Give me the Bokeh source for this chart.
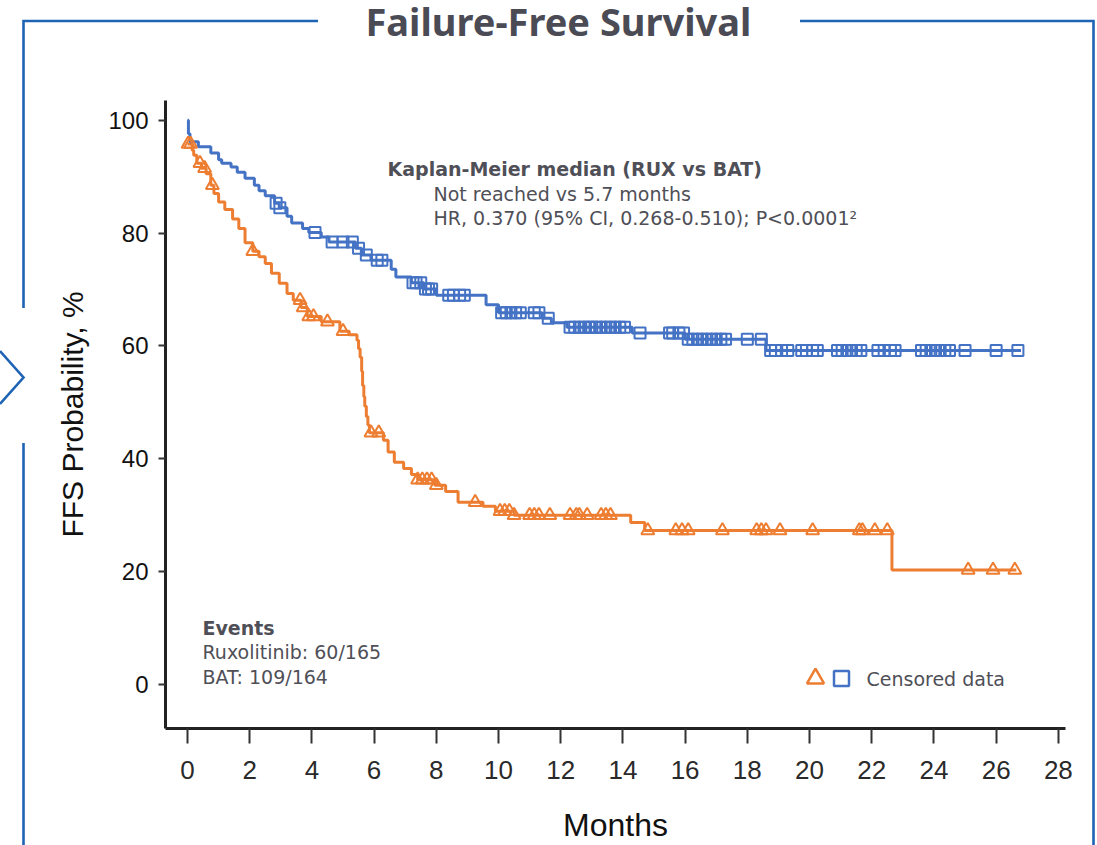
from bokeh.plotting import figure
from bokeh.models import Label, Range1d, FixedTicker, Title
from bokeh.embed import file_html
from bokeh.resources import INLINE
import numpy as np

# ---------------- data ----------------
rux_t = [0.0, 0.03, 0.08, 0.35, 0.75, 1.0, 1.1, 1.4, 1.6, 1.85, 2.15, 2.3, 2.5, 2.8, 2.95,
         3.2, 3.35, 3.7, 3.9, 4.3, 4.55, 5.4, 5.6, 5.9, 6.55, 6.7, 7.2, 7.6, 8.0, 9.6,
         10.0, 11.4, 11.7, 12.2, 14.3, 16.0, 18.6]
rux_s = [100.0, 97.6, 96.2, 95.3, 94.2, 93.0, 92.4, 91.7, 90.8, 89.7, 88.5, 87.5, 86.6, 85.3, 84.5,
         83.0, 81.8, 80.8, 80.1, 79.3, 78.4, 77.3, 76.1, 75.2, 73.6, 72.2, 71.2, 70.1, 69.0, 67.3,
         65.9, 64.9, 64.1, 63.3, 62.3, 61.2, 59.2]
rux_end = 26.8
rux_cens = [2.85, 2.97, 4.1, 4.65, 5.0, 5.3, 5.5, 5.75, 6.1, 6.25,
            7.25, 7.35, 7.5, 7.65, 7.75, 7.85, 8.4, 8.55, 8.75, 8.9,
            10.1, 10.25, 10.4, 10.55, 10.7, 11.15, 11.3, 11.6,
            12.3, 12.45, 12.6, 12.75, 12.9, 13.0, 13.15, 13.3, 13.45, 13.6, 13.75, 13.9, 14.05,
            14.55, 15.5, 15.6, 15.8, 15.95, 16.1, 16.25, 16.4, 16.55, 16.7, 16.85, 17.0, 17.15, 17.3,
            18.0, 18.45, 18.75, 18.9, 19.1, 19.3, 19.75, 19.9, 20.1, 20.25,
            20.9, 21.05, 21.2, 21.35, 21.5, 21.65, 22.2, 22.4, 22.6, 22.75,
            23.6, 23.75, 23.9, 24.05, 24.2, 24.35, 24.5, 25.0, 26.0, 26.7]

bat_t = [0.0, 0.15, 0.2, 0.3, 0.45, 0.6, 0.75, 0.85, 1.0, 1.2, 1.45, 1.65, 1.85, 2.1, 2.3,
         2.5, 2.7, 2.95, 3.2, 3.4, 3.65, 3.85, 4.3, 4.9, 5.2, 5.45, 5.5, 5.55, 5.6, 5.63,
         5.67, 5.7, 5.75, 5.8, 5.85, 6.3, 6.45, 6.65, 6.95, 7.2, 7.4, 7.95, 8.3, 8.7, 9.5,
         9.9, 10.5, 14.25, 14.7, 22.65]
bat_s = [95.8, 94.7, 93.8, 92.4, 91.5, 90.5, 88.5, 87.0, 85.5, 84.2, 82.5, 80.8, 78.3, 76.8, 75.8,
         74.6, 72.9, 71.1, 69.3, 68.1, 66.8, 65.2, 64.3, 62.6, 62.0, 61.0, 59.5, 58.0, 55.5, 53.0,
         51.0, 49.3, 47.5, 46.0, 44.6, 43.3, 41.2, 39.4, 38.3, 37.2, 36.3, 35.3, 34.2, 32.3, 31.6,
         30.7, 30.0, 28.7, 27.3, 20.3]
bat_end = 26.65
bat_cens = [0.02, 0.1, 0.4, 0.55, 0.8, 2.1, 3.62, 3.72, 3.9, 4.05, 4.5, 5.0, 5.9, 6.15,
            7.4, 7.55, 7.7, 7.85, 8.0, 9.25, 10.05, 10.2, 10.35, 10.5, 11.0, 11.15, 11.3, 11.65,
            12.3, 12.5, 12.6, 12.85, 13.3, 13.45, 13.6, 14.8, 15.7, 15.9, 16.1, 17.2,
            18.3, 18.45, 18.6, 19.05, 20.1, 21.6, 21.7, 22.1, 22.5, 25.1, 25.9, 26.6]

x_ticks = list(range(0, 29, 2))
y_ticks = [0, 20, 40, 60, 80, 100]

title_text = "Failure-Free Survival"
x_title = "Months"
y_title = "FFS Probability, %"
km_head = "Kaplan-Meier median (RUX vs BAT)"
km_lines = ["Not reached vs 5.7 months", "HR, 0.370 (95% CI, 0.268-0.510); P<0.0001\u00b2"]
events_head = "Events"
events_lines = ["Ruxolitinib: 60/165", "BAT: 109/164"]
legend_text = "Censored data"

BLUE = "#4472C4"
ORANGE = "#ED7D31"
FRAME = "#1F63B5"
GREY = "#4F4F57"

# ---------------- page decoration: blue frame behind the (transparent) canvas ----------------
W, H = 1097, 845
frame_svg = (
    "<svg xmlns='http://www.w3.org/2000/svg' width='1097' height='845'>"
    "<g fill='none' stroke='" + FRAME.replace("#", "%23") + "' stroke-width='2.6'>"
    "<path d='M318 21 H23.5 V308'/>"
    "<path d='M23.5 443 V845'/>"
    "<path d='M800 21 H1093.5 V845'/>"
    "<path d='M0 351 L23.5 377.5 L0 404'/>"
    "</g></svg>"
)

# ---------------- figure ----------------
X0, X1 = -0.707, 28.23
Y0, Y1 = -7.8, 103.5
ML, MR, MT, MB = 165, 32, 100, 117
p = figure(width=W, height=H, output_backend="svg", toolbar_location=None,
           x_range=Range1d(X0, X1), y_range=Range1d(Y0, Y1),
           min_border_left=ML, min_border_right=MR, min_border_top=MT, min_border_bottom=MB,
           styles={"background-color": "white",
                   "background-image": 'url("data:image/svg+xml;utf8,' + frame_svg + '")',
                   "background-repeat": "no-repeat",
                   "background-position": "0 0"})
p.outline_line_color = None
p.grid.visible = False
p.background_fill_color = None
p.border_fill_color = None

def stepxy(t, s, end):
    return list(t) + [end], list(s) + [s[-1]]

def at(t, s, c):
    idx = np.searchsorted(np.array(t), np.array(c), side="right") - 1
    return [s[i] for i in idx]

rx, ry = stepxy(rux_t, rux_s, rux_end)
bx, by = stepxy(bat_t, bat_s, bat_end)
p.step(bx, by, mode="after", line_color=ORANGE, line_width=3)
p.step(rx, ry, mode="after", line_color=BLUE, line_width=3)
p.scatter(bat_cens, at(bat_t, bat_s, bat_cens), marker="triangle", size=13,
          fill_color=None, line_color=ORANGE, line_width=2)
p.scatter(rux_cens, at(rux_t, rux_s, rux_cens), marker="square", size=11,
          fill_color=None, line_color=BLUE, line_width=2)

# title: a blank spacer panel next to the frame, the title on the outside of it
title_kw = dict(text=title_text, align="left", offset=200, vertical_align="bottom",
                text_font="Noto Sans", text_font_style="bold", text_font_size="38px",
                text_color="#4B4B55")
try:
    main_title = Title(standoff=-20, **title_kw)
    spacer_standoff = 48
except Exception:
    main_title = Title(standoff=0, **title_kw)
    spacer_standoff = 31
p.add_layout(Title(text="\u00a0", standoff=spacer_standoff, text_font="Noto Sans",
                   text_font_size="10px", text_color="white"), "above")
p.add_layout(main_title, "above")

# axes
xa = p.xaxis[0]
xa.ticker = FixedTicker(ticks=x_ticks)
xa.major_tick_out = 15
xa.major_tick_in = 0
xa.minor_tick_line_color = None
xa.axis_line_width = 3
xa.axis_line_color = "#222222"
xa.major_tick_line_width = 2
xa.major_tick_line_color = "#333333"
xa.major_label_text_font = "Liberation Sans"
xa.major_label_text_font_size = "26px"
xa.major_label_text_color = "#2a2a2a"
xa.major_label_standoff = 17
xa.axis_label = x_title
xa.axis_label_text_font = "Liberation Sans"
xa.axis_label_text_font_style = "normal"
xa.axis_label_text_font_size = "32px"
xa.axis_label_text_color = "#111111"
xa.axis_label_standoff = 25

ya = p.yaxis[0]
ya.ticker = FixedTicker(ticks=y_ticks)
ya.major_tick_out = 7
ya.major_tick_in = 0
ya.minor_tick_line_color = None
ya.axis_line_width = 3
ya.axis_line_color = "#222222"
ya.major_tick_line_width = 2
ya.major_tick_line_color = "#333333"
ya.major_label_text_font = "Liberation Sans"
ya.major_label_text_font_size = "24px"
ya.major_label_text_color = "#111111"
ya.major_label_standoff = 10
ya.axis_label = y_title
ya.axis_label_text_font = "Liberation Sans"
ya.axis_label_text_font_style = "normal"
ya.axis_label_text_font_size = "30px"
ya.axis_label_text_color = "#111111"
ya.axis_label_standoff = 16

def clabel(x, y, text, size, bold=False):
    p.add_layout(Label(x=x, y=y, x_units="canvas", y_units="canvas", text=text,
                       text_align="left", text_baseline="middle", text_font="DejaVu Sans",
                       text_font_style="bold" if bold else "normal",
                       text_font_size=f"{size}px", text_color=GREY))

clabel(387, 168, km_head, 19, bold=True)
for i, t in enumerate(km_lines):
    clabel(433, 193 + 24 * i, t, 19)
clabel(202, 627, events_head, 19, bold=True)
for i, t in enumerate(events_lines):
    clabel(202, 651 + 25 * i, t, 19)
clabel(866, 678, legend_text, 19)

# legend key markers
def dx(px):
    return X0 + (px - ML) * (X1 - X0) / (W - ML - MR)

def dy(py):
    return Y1 - (py - MT) * (Y1 - Y0) / (H - MT - MB)

p.scatter([dx(815)], [dy(678)], marker="triangle", size=17, fill_color=None,
          line_color=ORANGE, line_width=2.5)
p.scatter([dx(841)], [dy(678)], marker="square", size=15, fill_color=None,
          line_color=BLUE, line_width=2.5)

open("out.html", "w").write(file_html(p, INLINE))
